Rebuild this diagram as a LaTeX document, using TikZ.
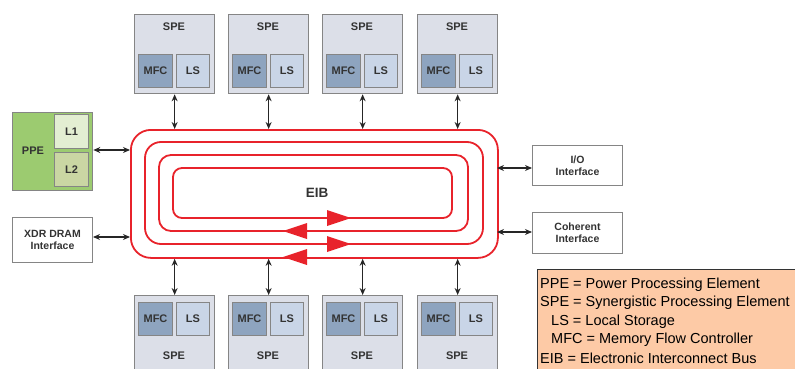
\documentclass[tikz,border=0pt]{standalone}
\usepackage{fontspec}
\setmainfont{Liberation Sans}
\usetikzlibrary{arrows.meta}
\definecolor{speFill}{HTML}{DCDFE8}
\definecolor{mfcFill}{HTML}{8EA4BF}
\definecolor{lsFill}{HTML}{C9D5E7}
\definecolor{boxLine}{HTML}{858585}
\definecolor{txtGray}{HTML}{333333}
\definecolor{ppeFill}{HTML}{9CCB70}
\definecolor{lOneFill}{HTML}{E3EED2}
\definecolor{lTwoFill}{HTML}{CAD6A3}
\definecolor{ringRed}{HTML}{E8232B}
\definecolor{legFill}{HTML}{FDCAA6}
\begin{document}
\begin{tikzpicture}[x=1pt,y=-1pt,
  lbl/.style={font=\bfseries\fontsize{11}{12}\selectfont, text=txtGray},
  spebox/.style={draw=boxLine, line width=1.3pt, fill=speFill, minimum width=80pt, minimum height=79pt, inner sep=0pt, anchor=north west},
  mfcbox/.style={draw=boxLine, line width=1pt, fill=mfcFill, minimum width=34pt, minimum height=33pt, inner sep=0pt, anchor=north west, lbl},
  lsbox/.style={draw=boxLine, line width=1pt, fill=lsFill, minimum width=33pt, minimum height=33pt, inner sep=0pt, anchor=north west, lbl},
  ifbox/.style={draw=boxLine, line width=1pt, fill=white, minimum width=80pt, minimum height=45pt, inner sep=0pt, anchor=north west, align=center, lbl, font=\bfseries\fontsize{10.5}{12}\selectfont},
  ring/.style={draw=ringRed, line width=1.8pt},
  conn/.style={{Stealth[length=7pt,width=6pt]}-{Stealth[length=7pt,width=6pt]}, line width=1.3pt, black!85},
  legtxt/.style={anchor=west, inner sep=0pt, font=\fontsize{14.5}{16}\selectfont}
]
\useasboundingbox (0,0) rectangle (795,369);

% EIB rings
\node[ring, rounded corners=20pt, minimum width=367pt, minimum height=128pt, anchor=north west, inner sep=0pt] (eib) at (130,129) {};
\draw[ring, rounded corners=16pt] (145,142) rectangle (483,244);
\draw[ring, rounded corners=12pt] (159,155) rectangle (468,231);
\draw[ring, rounded corners=9pt] (173,168) rectangle (452,218);
\node[font=\bfseries\fontsize{13.5}{15}\selectfont, text=txtGray] (eiblbl) at (317,193) {EIB};
% ring arrowheads
\fill[ringRed] (327,210) -- (351,218) -- (327,226) -- cycle;
\fill[ringRed] (307,223) -- (283,231) -- (307,239) -- cycle;
\fill[ringRed] (327,236) -- (351,244) -- (327,252) -- cycle;
\fill[ringRed] (307,249) -- (283,257) -- (307,265) -- cycle;

% top SPEs
\foreach \i/\x in {1/134,2/228,3/322,4/417}{
  \node[spebox] (spet\i) at (\x,14) {};
  \node[lbl] (spetl\i) at (\x+40,27) {SPE};
  \node[mfcbox] (mfct\i) at (\x+4,54) {MFC};
  \node[lsbox] (lst\i) at (\x+42,54) {LS};
  \draw[conn] (spet\i.south) -- (spet\i.south |- eib.north);
}
% bottom SPEs
\foreach \i/\x in {1/134,2/228,3/322,4/417}{
  \node[spebox] (speb\i) at (\x,295) {};
  \node[lbl] (spebl\i) at (\x+40,356) {SPE};
  \node[mfcbox] (mfcb\i) at (\x+4,302) {MFC};
  \node[lsbox] (lsb\i) at (\x+42,302) {LS};
  \draw[conn] (eib.south -| speb\i.north) -- (speb\i.north);
}

% PPE
\node[draw=boxLine, line width=1.3pt, fill=ppeFill, minimum width=80pt, minimum height=78pt, inner sep=0pt, anchor=north west] (ppe) at (12,112) {};
\node[lbl] (ppelbl) at (33,151) {PPE};
\node[draw=boxLine, line width=1pt, fill=lOneFill, minimum width=34pt, minimum height=34pt, inner sep=0pt, anchor=north west, lbl] (l1) at (54,114) {L1};
\node[draw=boxLine, line width=1pt, fill=lTwoFill, minimum width=34pt, minimum height=34pt, inner sep=0pt, anchor=north west, lbl] (l2) at (54,152) {L2};
\coordinate (ppeE) at (130,150);
\draw[conn] (ppe.east |- ppeE) -- (ppeE);

% XDR DRAM
\node[ifbox] (xdr) at (12,217) {XDR DRAM\\Interface};
\coordinate (xdrE) at (130,237);
\draw[conn] (xdr.east |- xdrE) -- (xdrE);

% I/O and Coherent
\node[ifbox, minimum width=90pt, minimum height=40pt] (io) at (532,145) {I/O\\Interface};
\node[ifbox, minimum width=90pt, minimum height=41pt] (coh) at (532,212) {Coherent\\Interface};
\coordinate (ioW) at (497,168);
\coordinate (cohW) at (497,232);
\draw[conn] (ioW) -- (io.west |- ioW);
\draw[conn] (cohW) -- (coh.west |- cohW);

% Legend
\node[draw=black!80, line width=0.8pt, fill=legFill, minimum width=262pt, minimum height=104pt, anchor=north west, inner sep=0pt] (leg) at (537,269) {};
\node[legtxt] (lg1) at (540,285) {PPE = Power Processing Element};
\node[legtxt] (lg2) at (540,303) {SPE = Synergistic Processing Element};
\node[legtxt] (lg3) at (551,322) {LS = Local Storage};
\node[legtxt] (lg4) at (551,340) {MFC = Memory Flow Controller};
\node[legtxt] (lg5) at (540,358) {EIB = Electronic Interconnect Bus};
\end{tikzpicture}
\end{document}
